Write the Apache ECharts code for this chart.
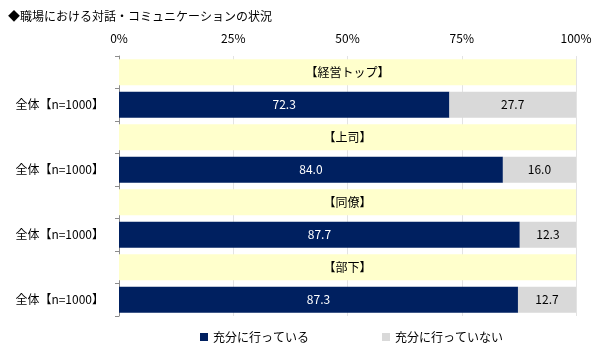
<!DOCTYPE html>
<html>
<head>
<meta charset="utf-8">
<script src="https://cdn.jsdelivr.net/npm/echarts@6/dist/echarts.min.js"></script>
<style>html,body{margin:0;padding:0;background:#fff}#c{width:600px;height:346px}</style>
</head>
<body>
<div id="c"></div>
<script>
const titleText = '◆職場における対話・コミュニケーションの状況';
const groups = ['【経営トップ】', '【上司】', '【同僚】', '【部下】'];
const rowLabel = '全体【n=1000】';
const seriesNames = ['充分に行っている', '充分に行っていない'];
const doneValues = [72.3, 84.0, 87.7, 87.3];
const notDoneValues = [27.7, 16.0, 12.3, 12.7];
const headerValue = 100;
const xTicks = [0, 25, 50, 75, 100];

const FONT = '"Noto Sans CJK JP", "Noto Sans", sans-serif';

// build rows: header row then data row per group
const yCats = [];
const headerData = [];
const doneData = [];
const notDoneData = [];
groups.forEach((g, i) => {
  yCats.push('');
  headerData.push({ value: headerValue, label: { formatter: g } });
  doneData.push('-');
  notDoneData.push('-');
  yCats.push(rowLabel);
  headerData.push('-');
  doneData.push(doneValues[i]);
  notDoneData.push(notDoneValues[i]);
});

const chart = echarts.init(document.getElementById('c'), null, { renderer: 'canvas' });
chart.setOption({
  animation: false,
  backgroundColor: '#ffffff',
  textStyle: { fontFamily: FONT },
  title: {
    text: titleText,
    left: 3, top: 5,
    textStyle: { fontSize: 12, fontWeight: 'normal', color: '#000', fontFamily: FONT }
  },
  legend: {
    data: seriesNames,
    left: 195, top: 326,
    itemWidth: 8, itemHeight: 8, itemGap: 73,
    icon: 'rect',
    textStyle: { fontSize: 12, color: '#000', fontFamily: FONT }
  },
  grid: { left: 119, right: 24, top: 56, bottom: 30, containLabel: false },
  xAxis: {
    type: 'value',
    position: 'top',
    min: xTicks[0], max: xTicks[xTicks.length - 1], interval: 25,
    axisLabel: { formatter: '{value}%', fontSize: 12, color: '#000', margin: 12, fontFamily: FONT },
    axisLine: { show: false },
    axisTick: { show: false },
    splitLine: { show: true, lineStyle: { color: '#e3e3e3', width: 1 } }
  },
  yAxis: {
    type: 'category',
    inverse: true,
    data: yCats,
    axisLine: { show: true, lineStyle: { color: '#8c8c8c', width: 1 } },
    axisTick: { show: true, length: 4, lineStyle: { color: '#8c8c8c' } },
    axisLabel: { fontSize: 12, color: '#000', margin: 15, fontFamily: FONT, interval: 0 }
  },
  series: [
    {
      name: 'header', type: 'bar', stack: 'all', barWidth: 26,
      data: headerData,
      itemStyle: { color: '#ffffcc' },
      label: { show: true, position: 'inside', color: '#000', fontSize: 12, fontFamily: FONT },
      emphasis: { disabled: true }, silent: true
    },
    {
      name: seriesNames[0], type: 'bar', stack: 'all', barWidth: 26,
      data: doneData,
      itemStyle: { color: '#002060' },
      label: { show: true, position: 'inside', color: '#fff', fontSize: 12, fontFamily: FONT,
               formatter: p => Number(p.value).toFixed(1) },
      emphasis: { disabled: true }
    },
    {
      name: seriesNames[1], type: 'bar', stack: 'all', barWidth: 26,
      data: notDoneData,
      itemStyle: { color: '#d9d9d9' },
      label: { show: true, position: 'inside', color: '#000', fontSize: 12, fontFamily: FONT,
               formatter: p => Number(p.value).toFixed(1) },
      emphasis: { disabled: true }
    }
  ]
});
</script>
</body>
</html>
